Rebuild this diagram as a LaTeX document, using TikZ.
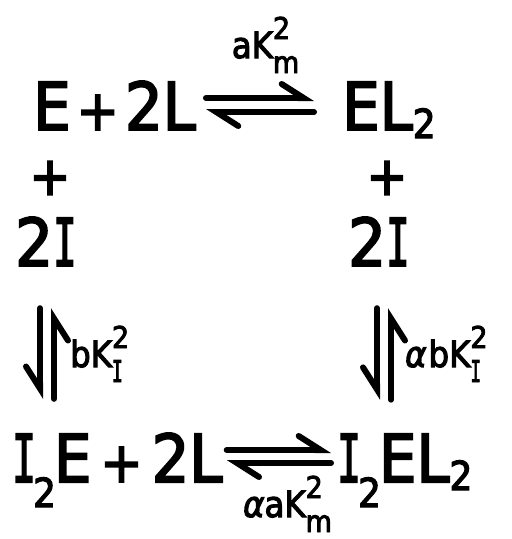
\documentclass[tikz,border=0pt]{standalone}
\usepackage{graphicx}
\usepackage{fontspec}
\setmainfont{DejaVu Sans Condensed}[FakeBold=3]
\newfontfamily\slabfont{DejaVu Sans Mono}[FakeBold=3]
\usetikzlibrary{arrows.meta,positioning}

% lettered I with bars, subscript 2, small plus and rate constant K
\newcommand{\Ib}{\scalebox{0.6}[1]{\slabfont I}}
\newcommand{\lowtwo}[1]{\raisebox{-#1}{\fontsize{40}{40}\selectfont 2}}
\newcommand{\pl}{{\fontsize{56}{56}\selectfont +}}
\newcommand{\Kr}[1]{K\rlap{\raisebox{-15pt}{\fontsize{30}{30}\selectfont #1}}\raisebox{19pt}{\fontsize{30}{30}\selectfont 2}}

\tikzset{
  species/.style={inner sep=0pt, font=\fontsize{66}{70}\selectfont},
  plus/.style={inner sep=0pt, font=\fontsize{54}{54}\selectfont},
  rate/.style={inner sep=0pt, font=\fontsize{36}{40}\selectfont},
  harp/.style={line width=6pt, line cap=round,
    -{Straight Barb[harpoon, length=22pt, width=28pt, line cap=round]}},
  harpsw/.style={line width=6pt, line cap=round,
    -{Straight Barb[harpoon, swap, length=22pt, width=28pt, line cap=round]}},
}

\begin{document}
\begin{tikzpicture}[x=1pt, y=-1pt]
  \useasboundingbox (0,0) rectangle (512,539);

  % Top row
  \node[species, anchor=base west] (etop) at (33,130) {E\kern6pt\pl\kern6pt2L};
  \node[species, anchor=base west] (eltop) at (342,130) {EL\lowtwo{8pt}};
  \node[rate, anchor=base] (kmtop) at (261,58) {a\Kr{m}};
  \draw[harp, shorten <=10pt, shorten >=28pt] ([yshift=32pt]etop.base east) -- ([yshift=32pt]etop.base east -| eltop.west);
  \draw[harp, shorten <=28pt, shorten >=10pt] ([yshift=18pt]etop.base east -| eltop.west) -- ([yshift=18pt]etop.base east);

  % Inhibitor
  \node[plus] (pleft) at (50,178) {+};
  \node[plus] (pright) at (387,178) {+};
  \node[species, anchor=base west] (ileft) at (15,266) {2\Ib};
  \node[species, anchor=base west] (iright) at (348,266) {2\Ib};

  % Bottom row
  \node[species, anchor=base west] (ebot) at (12,482) {\Ib\kern-3pt\lowtwo{25pt}\kern-2pt E\kern9pt\pl\kern9pt2L};
  \node[species, anchor=base west] (elbot) at (337,482) {\Ib\kern-3pt\lowtwo{25pt}\kern-2pt EL\lowtwo{8pt}};
  \node[rate, anchor=base] (kmbot) at (283,517) {\textit{α}a\Kr{m}};
  \draw[harp, shorten <=4pt, shorten >=6pt] ([yshift=32pt]ebot.base east) -- ([yshift=32pt]ebot.base east -| elbot.west);
  \draw[harp, shorten <=6pt, shorten >=4pt] ([yshift=19pt]ebot.base east -| elbot.west) -- ([yshift=19pt]ebot.base east);

  % Vertical equilibria
  \draw[harpsw, shorten <=42pt, shorten >=34pt] ([xshift=-6pt]ileft.south) -- ([xshift=-6pt]ileft.south |- ebot.north);
  \draw[harpsw, shorten <=34pt, shorten >=42pt] ([xshift=8pt]ileft.south |- ebot.north) -- ([xshift=8pt]ileft.south);
  \node[rate, anchor=base west] (kileft) at (70,367) {b\Kr{\Ib}};
  \draw[harpsw, shorten <=42pt, shorten >=34pt] ([xshift=-2pt]iright.south) -- ([xshift=-2pt]iright.south |- elbot.north);
  \draw[harpsw, shorten <=34pt, shorten >=42pt] ([xshift=12pt]iright.south |- elbot.north) -- ([xshift=12pt]iright.south);
  \node[rate, anchor=base west] (kiright) at (405,367) {\textit{α}\kern2pt b\Kr{\Ib}};
\end{tikzpicture}
\end{document}
